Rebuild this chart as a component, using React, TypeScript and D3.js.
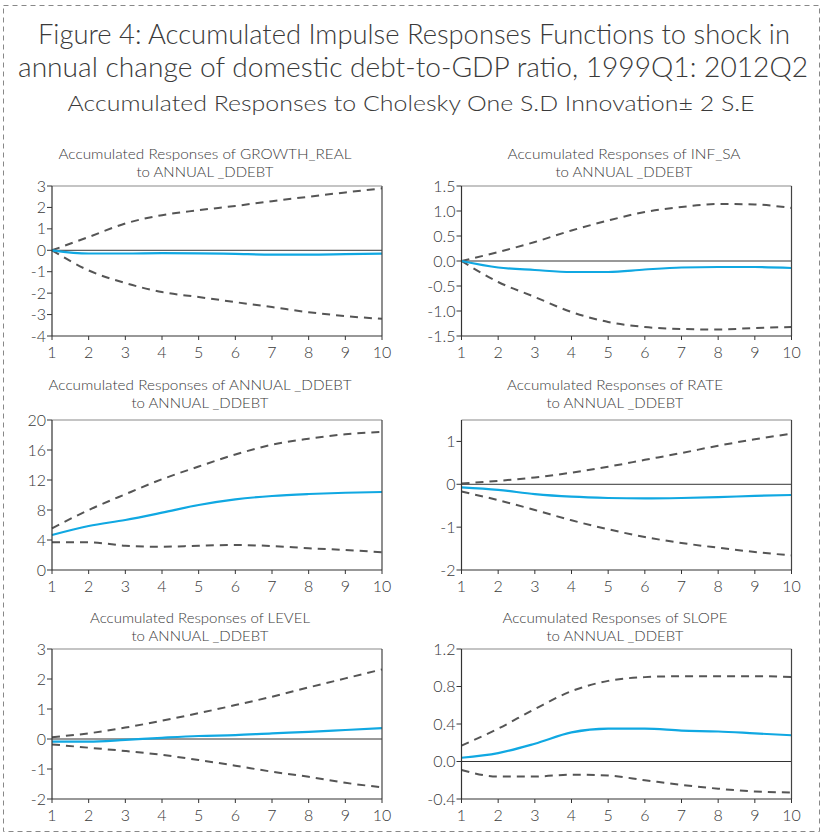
import React from 'react';
import * as d3 from 'd3';

const periods = [1, 2, 3, 4, 5, 6, 7, 8, 9, 10];

// GROWTH_REAL
const growthResp = [0, -0.15, -0.15, -0.13, -0.14, -0.17, -0.2, -0.2, -0.18, -0.16];
const growthUpper = [0, 0.62, 1.25, 1.64, 1.87, 2.07, 2.29, 2.5, 2.7, 2.89];
const growthLower = [0, -0.94, -1.53, -1.95, -2.18, -2.42, -2.65, -2.89, -3.07, -3.2];
const growthTicks = [-4, -3, -2, -1, 0, 1, 2, 3];

// INF_SA
const infResp = [0, -0.13, -0.18, -0.22, -0.22, -0.17, -0.13, -0.12, -0.12, -0.14];
const infUpper = [0, 0.18, 0.38, 0.61, 0.81, 0.98, 1.08, 1.14, 1.13, 1.06];
const infLower = [0, -0.42, -0.72, -1.02, -1.22, -1.32, -1.36, -1.37, -1.34, -1.32];
const infTicks = [-1.5, -1.0, -0.5, 0.0, 0.5, 1.0, 1.5];

// ANNUAL_DDEBT
const debtResp = [4.67, 5.87, 6.67, 7.64, 8.67, 9.42, 9.87, 10.13, 10.3, 10.4];
const debtUpper = [5.56, 8.0, 10.1, 12.1, 13.8, 15.4, 16.7, 17.5, 18.1, 18.4];
const debtLower = [3.69, 3.69, 3.24, 3.1, 3.24, 3.33, 3.2, 2.9, 2.67, 2.36];
const debtTicks = [0, 4, 8, 12, 16, 20];

// RATE
const rateResp = [-0.07, -0.13, -0.23, -0.29, -0.32, -0.33, -0.32, -0.3, -0.27, -0.25];
const rateUpper = [0.02, 0.08, 0.16, 0.27, 0.41, 0.57, 0.73, 0.9, 1.05, 1.18];
const rateLower = [-0.17, -0.37, -0.6, -0.84, -1.05, -1.23, -1.37, -1.48, -1.58, -1.66];
const rateTicks = [-2, -1, 0, 1];

// LEVEL
const levelResp = [-0.09, -0.09, -0.03, 0.04, 0.1, 0.13, 0.19, 0.24, 0.3, 0.36];
const levelUpper = [0.06, 0.19, 0.38, 0.61, 0.86, 1.13, 1.41, 1.72, 2.02, 2.32];
const levelLower = [-0.18, -0.29, -0.4, -0.53, -0.7, -0.89, -1.09, -1.26, -1.46, -1.61];
const levelTicks = [-2, -1, 0, 1, 2, 3];

// SLOPE
const slopeResp = [0.04, 0.09, 0.19, 0.31, 0.35, 0.35, 0.33, 0.32, 0.3, 0.28];
const slopeUpper = [0.17, 0.35, 0.56, 0.75, 0.86, 0.9, 0.91, 0.91, 0.91, 0.9];
const slopeLower = [-0.09, -0.16, -0.16, -0.14, -0.15, -0.2, -0.25, -0.29, -0.32, -0.33];
const slopeTicks = [-0.4, 0.0, 0.4, 0.8, 1.2];

const mainTitle1 = 'Figure 4: Accumulated Impulse Responses Functions to shock in';
const mainTitle2 = 'annual change of domestic debt-to-GDP ratio, 1999Q1: 2012Q2';
const mainTitle3 = 'Accumulated Responses to Cholesky One S.D Innovation\u00b1 2 S.E';

const FONT = 'Lato, "Noto Sans", sans-serif';
const BLUE = '#10a8e2';
const DASH = '#555555';
const TEXT = '#3a3a3a';

const fmt = (v: number, dec: number) => {
  const s = v.toFixed(dec);
  return s === '-0' || s === '-0.0' ? s.slice(1) : s;
};

const panels = [
  { t1: 'Accumulated Responses of GROWTH_REAL', w1: 293, resp: growthResp, up: growthUpper, lo: growthLower, ticks: growthTicks, domain: [-4, 3], dec: 0, x0: 52, y0: 186, cx: 205, ty: 159 },
  { t1: 'Accumulated Responses of INF_SA', w1: 233, resp: infResp, up: infUpper, lo: infLower, ticks: infTicks, domain: [-1.5, 1.5], dec: 1, x0: 461.5, y0: 186, cx: 624, ty: 159 },
  { t1: 'Accumulated Responses of ANNUAL _DDEBT', w1: 303, resp: debtResp, up: debtUpper, lo: debtLower, ticks: debtTicks, domain: [0, 20], dec: 0, x0: 52, y0: 420, cx: 200, ty: 390 },
  { t1: 'Accumulated Responses of RATE', w1: 216, resp: rateResp, up: rateUpper, lo: rateLower, ticks: rateTicks, domain: [-2, 1.5], dec: 0, x0: 461.5, y0: 420, cx: 615, ty: 390 },
  { t1: 'Accumulated Responses of LEVEL', w1: 220, resp: levelResp, up: levelUpper, lo: levelLower, ticks: levelTicks, domain: [-2, 3], dec: 0, x0: 52, y0: 649, cx: 200, ty: 623 },
  { t1: 'Accumulated Responses of SLOPE', w1: 225, resp: slopeResp, up: slopeUpper, lo: slopeLower, ticks: slopeTicks, domain: [-0.4, 1.2], dec: 1, x0: 461.5, y0: 649, cx: 615, ty: 623 },
];

const W = 330;
const H = 150;

function Panel({ p }: { p: (typeof panels)[number] }) {
  const x = d3.scaleLinear().domain([1, 10]).range([p.x0, p.x0 + W]);
  const y = d3.scaleLinear().domain(p.domain).range([p.y0 + H, p.y0]);
  const line = d3
    .line<number>()
    .x((_, i) => x(periods[i]))
    .y((d) => y(d))
    .curve(d3.curveMonotoneX);
  const hasZero = p.domain[0] < 0 && p.domain[1] > 0;
  return (
    <g>
      <text x={p.cx} y={p.ty} textAnchor="middle" fontSize={14} fontWeight={300} fill={TEXT} textLength={p.w1} lengthAdjust="spacingAndGlyphs">
        {p.t1}
      </text>
      <text x={p.cx} y={p.ty + 18} textAnchor="middle" fontSize={14} fontWeight={300} fill={TEXT} textLength={137} lengthAdjust="spacingAndGlyphs">
        to ANNUAL _DDEBT
      </text>
      {hasZero && (
        <line x1={p.x0} x2={p.x0 + W} y1={y(0)} y2={y(0)} stroke="#333" strokeWidth={1} />
      )}
      <path d={line(p.up) || ''} fill="none" stroke={DASH} strokeWidth={2} strokeDasharray="8,6" />
      <path d={line(p.lo) || ''} fill="none" stroke={DASH} strokeWidth={2} strokeDasharray="8,6" />
      <path d={line(p.resp) || ''} fill="none" stroke={BLUE} strokeWidth={2.2} />
      <line x1={p.x0} x2={p.x0 + W} y1={p.y0} y2={p.y0} stroke="#8a8a8a" strokeWidth={1.2} />
      <line x1={p.x0 + W} x2={p.x0 + W} y1={p.y0} y2={p.y0 + H} stroke="#444" strokeWidth={1.2} />
      <line x1={p.x0} x2={p.x0} y1={p.y0} y2={p.y0 + H} stroke="#333" strokeWidth={1.2} />
      <line x1={p.x0} x2={p.x0 + W} y1={p.y0 + H} y2={p.y0 + H} stroke="#333" strokeWidth={1.2} />
      {p.ticks.map((t) => (
        <g key={'y' + t}>
          <line x1={p.x0 - 5} x2={p.x0} y1={y(t)} y2={y(t)} stroke="#333" strokeWidth={1} />
          <text x={p.x0 - 6} y={y(t) + 5.5} textAnchor="end" fontSize={16} fontWeight={300} fill={TEXT}>
            {fmt(t, p.dec)}
          </text>
        </g>
      ))}
      {periods.map((t) => (
        <g key={'x' + t}>
          <line x1={x(t)} x2={x(t)} y1={p.y0 + H} y2={p.y0 + H + 4} stroke="#333" strokeWidth={1} />
          <text x={x(t)} y={p.y0 + H + 22} textAnchor="middle" fontSize={16} fontWeight={300} fill={TEXT}>
            {t}
          </text>
        </g>
      ))}
    </g>
  );
}

export default function App() {
  return (
    <svg
      width={823}
      height={839}
      style={{ position: 'absolute', left: 0, top: 0, background: '#fff' }}
      fontFamily={FONT}
    >
      <rect x={0} y={0} width={823} height={839} fill="#fff" />
      <rect x={3.5} y={5.5} width={816} height={826} fill="none" stroke="#888" strokeWidth={1} strokeDasharray="5,4" />
      <text x={414} y={44} textAnchor="middle" fontSize={27} fontWeight={300} fill={TEXT} textLength={752} lengthAdjust="spacingAndGlyphs">
        {mainTitle1}
      </text>
      <text x={413} y={77} textAnchor="middle" fontSize={27} fontWeight={300} fill={TEXT} textLength={790} lengthAdjust="spacingAndGlyphs">
        {mainTitle2}
      </text>
      <text x={411} y={111} textAnchor="middle" fontSize={22} fontWeight={300} fill={TEXT} textLength={687} lengthAdjust="spacingAndGlyphs">
        {mainTitle3}
      </text>
      {panels.map((p, i) => (
        <Panel key={i} p={p} />
      ))}
    </svg>
  );
}
